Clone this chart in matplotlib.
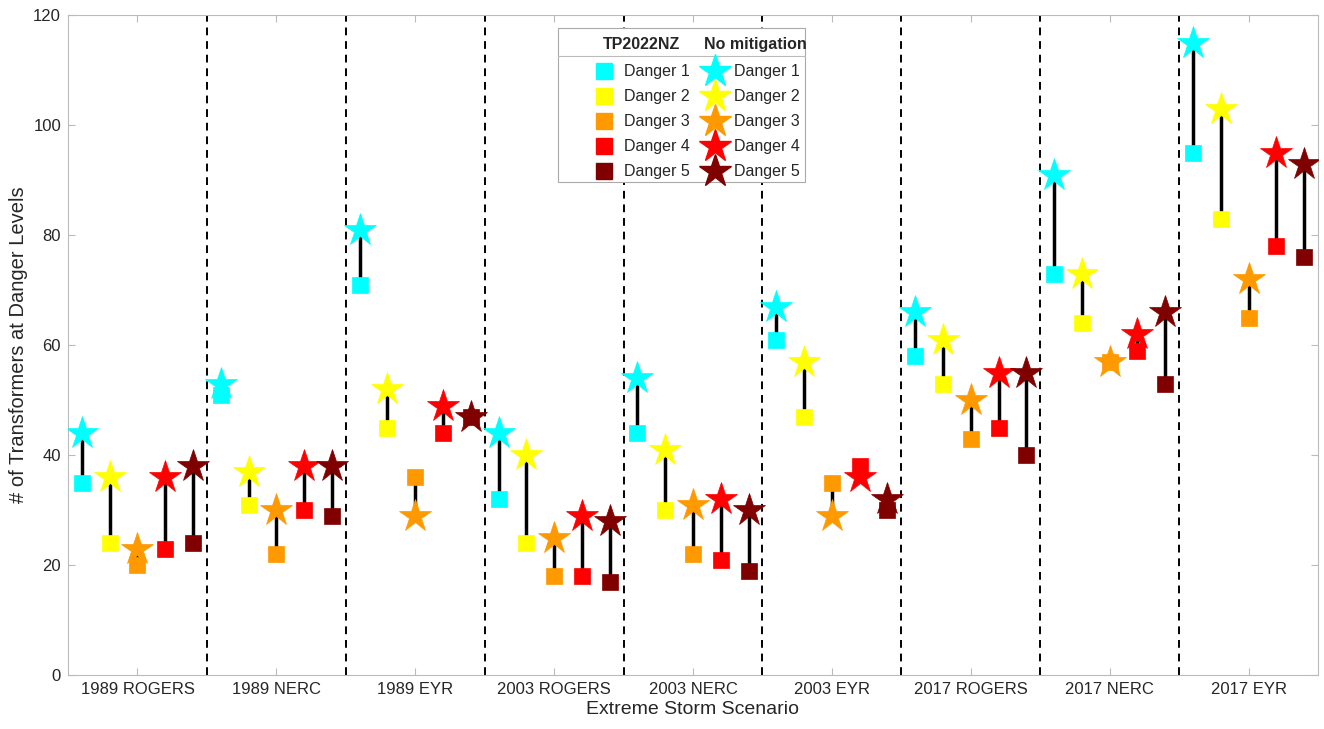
import matplotlib
matplotlib.use("Agg")
import matplotlib.pyplot as plt
from matplotlib.patches import Rectangle
import numpy as np

plt.rcParams['font.family'] = ['Liberation Sans', 'DejaVu Sans']

scenarios = ["1989 ROGERS", "1989 NERC", "1989 EYR", "2003 ROGERS", "2003 NERC",
             "2003 EYR", "2017 ROGERS", "2017 NERC", "2017 EYR"]
levels = ["Danger 1", "Danger 2", "Danger 3", "Danger 4", "Danger 5"]
level_colors = ["#00FFFF", "#FFFF00", "#FF9900", "#FF0000", "#800000"]

# TP2022NZ (squares), rows = scenarios, cols = danger levels
tp2022nz = [
    [35, 24, 20, 23, 24],
    [51, 31, 22, 30, 29],
    [71, 45, 36, 44, 47],
    [32, 24, 18, 18, 17],
    [44, 30, 22, 21, 19],
    [61, 47, 35, 38, 30],
    [58, 53, 43, 45, 40],
    [73, 64, 57, 59, 53],
    [95, 83, 65, 78, 76],
]
# No mitigation (stars)
no_mitigation = [
    [44, 36, 23, 36, 38],
    [53, 37, 30, 38, 38],
    [81, 52, 29, 49, 47],
    [44, 40, 25, 29, 28],
    [54, 41, 31, 32, 30],
    [67, 57, 29, 36, 32],
    [66, 61, 50, 55, 55],
    [91, 73, 57, 62, 66],
    [115, 103, 72, 95, 93],
]

STAR_MS = 24.5
SQ_MS = 11

fig = plt.figure(figsize=(13.24, 7.29), dpi=100)
ax = fig.add_axes([68/1324, 54/729, 1250/1324, 660/729])

n_lv = len(levels)
for g, name in enumerate(scenarios):
    for k in range(n_lv):
        x = g * n_lv + k + 1
        a = tp2022nz[g][k]
        b = no_mitigation[g][k]
        ax.plot([x, x], [a, b], color='black', lw=2.5, zorder=2, solid_capstyle='butt')
        ax.plot(x, a, marker='s', ms=SQ_MS, color=level_colors[k], mec=level_colors[k],
                mew=0.5, ls='none', zorder=3)
        ax.plot(x, b, marker='*', ms=STAR_MS, color=level_colors[k], mec=level_colors[k],
                mew=0.5, ls='none', zorder=4)

for g in range(1, len(scenarios)):
    ax.axvline(g * n_lv + 0.5, color='black', ls=(0, (4, 3)), lw=1.4, zorder=1)

ax.set_xlim(0.5, len(scenarios) * n_lv + 0.5)
ax.set_ylim(0, 120)
ax.set_xticks([g * n_lv + 3 for g in range(len(scenarios))])
ax.set_xticklabels(scenarios)
ax.set_yticks(np.arange(0, 121, 20))
ax.tick_params(direction='in', top=True, right=True, length=5, width=0.8,
               color='#BBBBBB', labelsize=12, labelcolor='#262626', pad=5)
for s in ax.spines.values():
    s.set_color('#BBBBBB')
    s.set_linewidth(0.8)
ax.set_xlabel("Extreme Storm Scenario", fontsize=14, color='#262626', labelpad=3)
ax.set_ylabel("# of Transformers at Danger Levels", fontsize=14.5, color='#262626', labelpad=4)

# custom two-column legend
tr = ax.transAxes
lx0, lx1, ly0, ly1 = 0.392, 0.5896, 0.747, 0.980
ax.add_patch(Rectangle((lx0, ly0), lx1 - lx0, ly1 - ly0, transform=tr,
                       facecolor='white', edgecolor='#AAAAAA', lw=0.8, zorder=10))
ax.plot([lx0, lx1], [0.938, 0.938], transform=tr, color='#BBBBBB', lw=0.8, zorder=11)
ax.text(0.4592, 0.956, "TP2022NZ", transform=tr, ha='center', va='center',
        fontsize=11.5, fontweight='bold', color='#262626', zorder=11)
ax.text(0.5500, 0.956, "No mitigation", transform=tr, ha='center', va='center',
        fontsize=11.5, fontweight='bold', color='#262626', zorder=11)
row_y = [0.915, 0.877, 0.839, 0.801, 0.763]
for k in range(n_lv):
    ax.plot(0.4288, row_y[k], transform=tr, marker='s', ms=SQ_MS, color=level_colors[k],
            mec=level_colors[k], ls='none', zorder=12, clip_on=False)
    ax.text(0.4448, row_y[k], levels[k], transform=tr, ha='left', va='center',
            fontsize=11.5, color='#262626', zorder=12)
    ax.plot(0.5176, row_y[k], transform=tr, marker='*', ms=STAR_MS, color=level_colors[k],
            mec=level_colors[k], ls='none', zorder=12, clip_on=False)
    ax.text(0.5328, row_y[k], levels[k], transform=tr, ha='left', va='center',
            fontsize=11.5, color='#262626', zorder=12)

fig.savefig("out.png", dpi=100)
